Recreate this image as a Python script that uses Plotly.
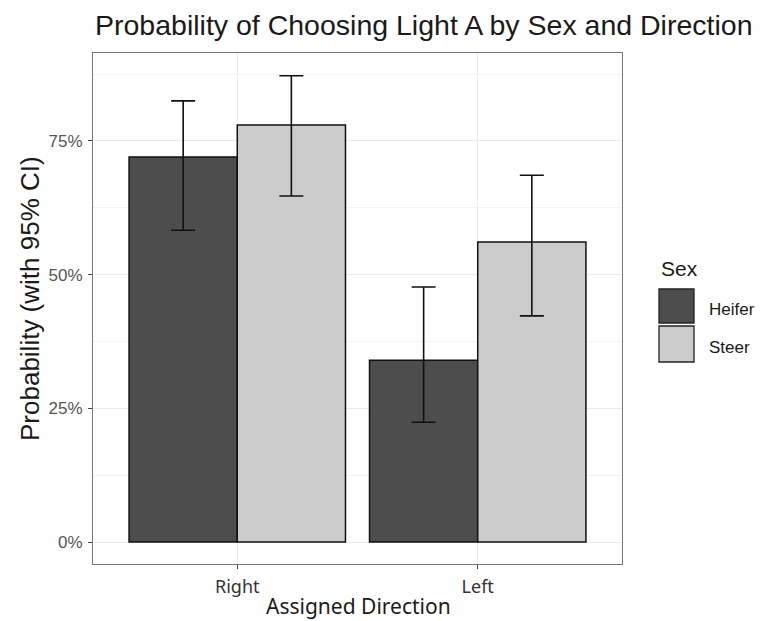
import plotly.graph_objects as go

directions = ["Right", "Left"]
sexes = ["Heifer", "Steer"]
prob_heifer = [0.72, 0.34]
prob_steer = [0.78, 0.561]
upper_heifer = [0.825, 0.477]
lower_heifer = [0.583, 0.224]
upper_steer = [0.872, 0.686]
lower_steer = [0.647, 0.423]
y_tick_vals = [0, 0.25, 0.5, 0.75]
y_tick_text = ["0%", "25%", "50%", "75%"]

OFF = 8  # page offset of the figure div
W, H = 773 - OFF, 621 - OFF
# panel edges in page pixels
PL, PR, PT, PB = 93, 622, 53, 564
L, R, T, B = PL - OFF, PR - OFF, PT - OFF, PB - OFF
colors = {"Heifer": "#4D4D4D", "Steer": "#CCCCCC"}
FONT = "Liberation Sans, Arial"

fig = go.Figure()
for sex, p, up, lo in [("Heifer", prob_heifer, upper_heifer, lower_heifer),
                       ("Steer", prob_steer, upper_steer, lower_steer)]:
    fig.add_trace(go.Bar(
        x=directions, y=p, name=sex,
        marker=dict(color=colors[sex], line=dict(color="#111111", width=1.5)),
        error_y=dict(type="data", symmetric=False,
                     array=[u - v for u, v in zip(up, p)],
                     arrayminus=[v - l for v, l in zip(p, lo)],
                     color="#111111", thickness=1.6, width=12),
        showlegend=False,
    ))

def px_x(x):  # page px -> paper
    return (x - PL) / (PR - PL)

def px_y(y):
    return (PB - y) / (PB - PT)

shapes = []
annotations = []
for sex, (y0, y1), ly in [("Heifer", (289, 323), 309), ("Steer", (326, 362), 347)]:
    shapes.append(dict(type="rect", xref="paper", yref="paper",
                       x0=px_x(659), x1=px_x(694), y0=px_y(y1), y1=px_y(y0),
                       fillcolor=colors[sex], line=dict(color="#222222", width=1.3)))
    annotations.append(dict(text=sex, xref="paper", yref="paper", x=px_x(707), y=px_y(ly),
                            xanchor="left", yanchor="middle", showarrow=False,
                            font=dict(size=17, color="#1a1a1a", family=FONT)))
annotations.append(dict(text="Sex", xref="paper", yref="paper", x=px_x(659), y=px_y(268),
                        xanchor="left", yanchor="middle", showarrow=False,
                        font=dict(size=21, color="#1a1a1a", family=FONT)))
annotations.append(dict(text="Assigned Direction", xref="paper", yref="paper",
                        x=px_x(358), y=px_y(606), xanchor="center", yanchor="middle",
                        showarrow=False,
                        font=dict(size=21, color="#1a1a1a", family="Noto Sans")))
annotations.append(dict(text="Probability (with 95% CI)", xref="paper", yref="paper",
                        x=px_x(30), y=px_y(299), xanchor="center", yanchor="middle",
                        textangle=-90, showarrow=False,
                        font=dict(size=26, color="#1a1a1a", family=FONT)))

fig.update_layout(
    width=W, height=H,
    margin=dict(l=L, r=W - R, t=T, b=H - B, pad=0),
    paper_bgcolor="white", plot_bgcolor="white",
    barmode="group", bargap=0.1, bargroupgap=0,
    font=dict(family=FONT, color="#1a1a1a"),
    title=dict(text="Probability of Choosing Light A by Sex and Direction",
               x=(95 - OFF) / W, xref="container", xanchor="left",
               y=1 - (25 - OFF) / H, yref="container", yanchor="middle",
               font=dict(size=28.5, color="#1a1a1a")),
    shapes=shapes, annotations=annotations,
    showlegend=False,
)
fig.update_xaxes(
    range=[-0.6, 1.6], showgrid=True, gridcolor="#EBEBEB", gridwidth=1,
    showline=True, mirror=True, linecolor="#777777", linewidth=1,
    ticks="outside", ticklen=4, tickcolor="#444444",
    tickfont=dict(size=18, color="#333333", family="Noto Sans"),
    ticklabelstandoff=2,
    zeroline=False,
)
fig.update_yaxes(
    range=[-0.041, 0.9145], tickvals=y_tick_vals, ticktext=y_tick_text,
    showgrid=True, gridcolor="#EBEBEB", gridwidth=1,
    minor=dict(tickvals=[0.125, 0.375, 0.625, 0.875], showgrid=True, gridcolor="#F3F3F3", gridwidth=0.6),
    showline=True, mirror=True, linecolor="#777777", linewidth=1,
    ticks="outside", ticklen=4, tickcolor="#444444",
    tickfont=dict(size=17, color="#555555", family=FONT),
    ticklabelstandoff=2,
    zeroline=False,
)
fig.write_html("out.html")
